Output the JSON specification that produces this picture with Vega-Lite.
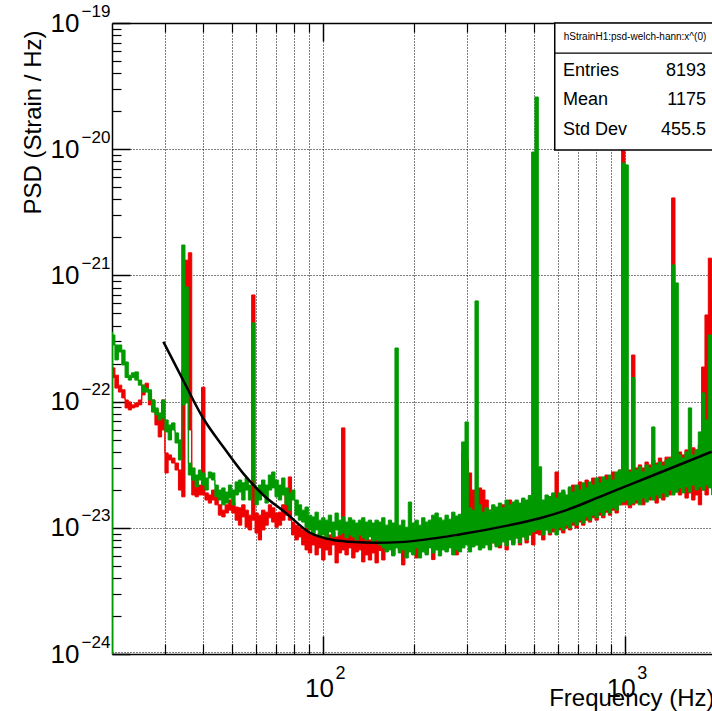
{
"$schema":"https://vega.github.io/schema/vega-lite/v6.json",
"width":600,"height":631,
"autosize":"none",
"padding":{"left":112,"top":23,"right":0,"bottom":57},
"background":"white",
"config":{"view":{"stroke":null},"font":"Liberation Sans","axis":{"labelColor":"#000","titleColor":"#000","tickColor":"#000","domainColor":"#000","labelOverlap":false,"labelFlush":false,"labelBound":false,"grid":false,"title":null}},
"datasets":{
"one":[{"k":1}],
"psd":[
{"s":"G","f":20.0,"hi":3.56e-22,"lo":1e-24},
{"s":"G","f":20.2,"hi":3.37e-22,"lo":2.81e-22},
{"s":"G","f":20.7,"hi":2.81e-22,"lo":2.14e-22},
{"s":"G","f":21.3,"hi":2.81e-22,"lo":2.47e-22},
{"s":"G","f":21.8,"hi":2.56e-22,"lo":1.95e-22},
{"s":"G","f":22.4,"hi":2.06e-22,"lo":1.55e-22},
{"s":"G","f":22.9,"hi":1.62e-22,"lo":1.48e-22},
{"s":"G","f":23.5,"hi":1.69e-22,"lo":1.55e-22},
{"s":"G","f":24.1,"hi":1.72e-22,"lo":1.48e-22},
{"s":"G","f":24.8,"hi":1.48e-22,"lo":1.35e-22},
{"s":"G","f":25.4,"hi":1.35e-22,"lo":1.19e-22},
{"s":"G","f":26.1,"hi":1.28e-22,"lo":1.19e-22},
{"s":"G","f":26.7,"hi":1.24e-22,"lo":1.03e-22},
{"s":"G","f":27.4,"hi":1.03e-22,"lo":8.28e-23},
{"s":"G","f":28.1,"hi":8.91e-23,"lo":7.84e-23},
{"s":"G","f":28.8,"hi":8.13e-23,"lo":7.16e-23},
{"s":"G","f":29.6,"hi":1.03e-22,"lo":7.42e-23},
{"s":"G","f":30.3,"hi":7.16e-23,"lo":5.75e-23},
{"s":"G","f":31.1,"hi":6.53e-23,"lo":4.97e-23},
{"s":"G","f":31.9,"hi":6.78e-23,"lo":5.96e-23},
{"s":"G","f":32.8,"hi":5.65e-23,"lo":4.70e-23},
{"s":"G","f":33.6,"hi":4.97e-23,"lo":3.45e-23},
{"s":"G","f":34.5,"hi":1.74e-21,"lo":9.42e-23},
{"s":"G","f":35.3,"hi":8.1e-22,"lo":9.76e-23},
{"s":"G","f":36.3,"hi":3.26e-23,"lo":2.62e-23},
{"s":"G","f":37.2,"hi":2.98e-23,"lo":2.39e-23},
{"s":"G","f":38.2,"hi":2.62e-23,"lo":2.11e-23},
{"s":"G","f":39.1,"hi":2.87e-23,"lo":2.39e-23},
{"s":"G","f":40.1,"hi":2.72e-23,"lo":2.18e-23},
{"s":"G","f":41.2,"hi":2.48e-23,"lo":1.99e-23},
{"s":"G","f":42.2,"hi":2.77e-23,"lo":2.48e-23},
{"s":"G","f":43.3,"hi":2.72e-23,"lo":2.39e-23},
{"s":"G","f":44.4,"hi":2.18e-23,"lo":1.76e-23},
{"s":"G","f":45.6,"hi":1.99e-23,"lo":1.66e-23},
{"s":"G","f":46.8,"hi":2.07e-23,"lo":1.52e-23},
{"s":"G","f":48.0,"hi":1.92e-23,"lo":1.57e-23},
{"s":"G","f":49.2,"hi":2.18e-23,"lo":1.72e-23},
{"s":"G","f":50.5,"hi":1.99e-23,"lo":1.52e-23},
{"s":"G","f":51.8,"hi":2.31e-23,"lo":1.82e-23},
{"s":"G","f":53.1,"hi":2.39e-23,"lo":1.92e-23},
{"s":"G","f":54.5,"hi":2.27e-23,"lo":1.66e-23},
{"s":"G","f":55.9,"hi":2.48e-23,"lo":1.99e-23},
{"s":"G","f":57.3,"hi":2.18e-23,"lo":1.66e-23},
{"s":"G","f":58.8,"hi":4.20e-22,"lo":2.39e-23},
{"s":"G","f":60.3,"hi":2.07e-23,"lo":1.52e-23},
{"s":"G","f":61.8,"hi":2.18e-23,"lo":1.66e-23},
{"s":"G","f":63.4,"hi":2.39e-23,"lo":1.82e-23},
{"s":"G","f":65.1,"hi":2.18e-23,"lo":1.57e-23},
{"s":"G","f":66.7,"hi":2.62e-23,"lo":1.99e-23},
{"s":"G","f":68.5,"hi":2.77e-23,"lo":2.07e-23},
{"s":"G","f":70.2,"hi":2.39e-23,"lo":1.76e-23},
{"s":"G","f":72.0,"hi":2.18e-23,"lo":1.66e-23},
{"s":"G","f":73.9,"hi":2.48e-23,"lo":1.82e-23},
{"s":"G","f":75.8,"hi":2.07e-23,"lo":1.52e-23},
{"s":"G","f":77.7,"hi":1.89e-23,"lo":1.38e-23},
{"s":"G","f":79.7,"hi":1.99e-23,"lo":1.66e-23},
{"s":"G","f":81.8,"hi":1.66e-23,"lo":1.26e-23},
{"s":"G","f":83.9,"hi":1.52e-23,"lo":1.15e-23},
{"s":"G","f":86.1,"hi":1.38e-23,"lo":1.11e-23},
{"s":"G","f":88.3,"hi":1.46e-23,"lo":1.01e-23},
{"s":"G","f":90.6,"hi":1.26e-23,"lo":9.62e-24},
{"s":"G","f":92.9,"hi":1.22e-23,"lo":8.78e-24},
{"s":"G","f":95.3,"hi":1.33e-23,"lo":9.62e-24},
{"s":"G","f":97.7,"hi":1.15e-23,"lo":8.47e-24},
{"s":"G","f":100.3,"hi":1.20e-23,"lo":8.78e-24},
{"s":"G","f":102.8,"hi":1.15e-23,"lo":8.32e-24},
{"s":"G","f":105.5,"hi":1.26e-23,"lo":9.28e-24},
{"s":"G","f":108.2,"hi":1.11e-23,"lo":8.47e-24},
{"s":"G","f":111.0,"hi":1.31e-23,"lo":9.62e-24},
{"s":"G","f":113.8,"hi":1.15e-23,"lo":8.78e-24},
{"s":"G","f":116.7,"hi":1.22e-23,"lo":9.11e-24},
{"s":"G","f":119.8,"hi":1.11e-23,"lo":8.32e-24},
{"s":"G","f":122.9,"hi":1.20e-23,"lo":8.78e-24},
{"s":"G","f":126.1,"hi":1.15e-23,"lo":8.47e-24},
{"s":"G","f":129.3,"hi":1.09e-23,"lo":8.02e-24},
{"s":"G","f":132.6,"hi":1.15e-23,"lo":8.78e-24},
{"s":"G","f":136.0,"hi":1.20e-23,"lo":8.32e-24},
{"s":"G","f":139.5,"hi":1.11e-23,"lo":8.02e-24},
{"s":"G","f":143.1,"hi":1.15e-23,"lo":8.47e-24},
{"s":"G","f":146.8,"hi":1.09e-23,"lo":7.73e-24},
{"s":"G","f":150.6,"hi":1.15e-23,"lo":8.02e-24},
{"s":"G","f":154.5,"hi":1.11e-23,"lo":7.32e-24},
{"s":"G","f":158.5,"hi":1.20e-23,"lo":6.93e-24},
{"s":"G","f":162.6,"hi":1.05e-23,"lo":6.44e-24},
{"s":"G","f":166.7,"hi":1.15e-23,"lo":6.68e-24},
{"s":"G","f":171.0,"hi":1.09e-23,"lo":5.99e-24},
{"s":"G","f":175.4,"hi":2.66e-22,"lo":6.93e-24},
{"s":"G","f":179.9,"hi":1.05e-23,"lo":6.32e-24},
{"s":"G","f":184.5,"hi":1.15e-23,"lo":6.68e-24},
{"s":"G","f":189.3,"hi":1.01e-23,"lo":5.77e-24},
{"s":"G","f":194.2,"hi":1.60e-23,"lo":6.44e-24},
{"s":"G","f":199.2,"hi":1.09e-23,"lo":6.10e-24},
{"s":"G","f":204.4,"hi":1.15e-23,"lo":6.93e-24},
{"s":"G","f":209.6,"hi":1.05e-23,"lo":5.77e-24},
{"s":"G","f":215.0,"hi":1.20e-23,"lo":6.44e-24},
{"s":"G","f":220.6,"hi":1.11e-23,"lo":6.10e-24},
{"s":"G","f":226.2,"hi":1.15e-23,"lo":6.93e-24},
{"s":"G","f":232.0,"hi":1.26e-23,"lo":6.32e-24},
{"s":"G","f":238.0,"hi":1.31e-23,"lo":6.68e-24},
{"s":"G","f":244.1,"hi":1.20e-23,"lo":5.99e-24},
{"s":"G","f":250.4,"hi":1.15e-23,"lo":6.68e-24},
{"s":"G","f":256.9,"hi":1.26e-23,"lo":6.44e-24},
{"s":"G","f":263.5,"hi":1.17e-23,"lo":6.93e-24},
{"s":"G","f":270.3,"hi":1.33e-23,"lo":6.10e-24},
{"s":"G","f":277.3,"hi":1.24e-23,"lo":6.68e-24},
{"s":"G","f":284.4,"hi":1.28e-23,"lo":6.44e-24},
{"s":"G","f":291.7,"hi":4.79e-23,"lo":6.93e-24},
{"s":"G","f":299.3,"hi":6.90e-23,"lo":7.32e-24},
{"s":"G","f":306.9,"hi":1.44e-23,"lo":6.44e-24},
{"s":"G","f":314.8,"hi":1.38e-23,"lo":7.06e-24},
{"s":"G","f":323.0,"hi":6.28e-22,"lo":7.32e-24},
{"s":"G","f":331.2,"hi":1.52e-23,"lo":6.68e-24},
{"s":"G","f":339.7,"hi":1.33e-23,"lo":6.93e-24},
{"s":"G","f":348.5,"hi":1.44e-23,"lo":7.32e-24},
{"s":"G","f":357.5,"hi":1.38e-23,"lo":6.68e-24},
{"s":"G","f":366.7,"hi":1.52e-23,"lo":7.59e-24},
{"s":"G","f":376.2,"hi":1.46e-23,"lo":7.06e-24},
{"s":"G","f":385.8,"hi":1.57e-23,"lo":7.32e-24},
{"s":"G","f":395.8,"hi":1.44e-23,"lo":7.73e-24},
{"s":"G","f":406.0,"hi":1.66e-23,"lo":7.19e-24},
{"s":"G","f":416.4,"hi":1.52e-23,"lo":8.02e-24},
{"s":"G","f":427.2,"hi":1.60e-23,"lo":7.32e-24},
{"s":"G","f":438.2,"hi":1.66e-23,"lo":8.32e-24},
{"s":"G","f":449.4,"hi":1.57e-23,"lo":7.59e-24},
{"s":"G","f":461.0,"hi":1.72e-23,"lo":8.47e-24},
{"s":"G","f":472.9,"hi":1.66e-23,"lo":8.02e-24},
{"s":"G","f":485.0,"hi":1.80e-23,"lo":8.78e-24},
{"s":"G","f":497.5,"hi":9.5e-21,"lo":9.28e-24},
{"s":"G","f":510.4,"hi":2.59e-20,"lo":9.62e-24},
{"s":"G","f":523.5,"hi":3.04e-23,"lo":9.62e-24},
{"s":"G","f":537.0,"hi":1.66e-23,"lo":8.78e-24},
{"s":"G","f":550.9,"hi":1.82e-23,"lo":9.62e-24},
{"s":"G","f":565.0,"hi":1.76e-23,"lo":9.11e-24},
{"s":"G","f":579.6,"hi":1.89e-23,"lo":9.97e-24},
{"s":"G","f":594.6,"hi":1.72e-23,"lo":8.78e-24},
{"s":"G","f":609.8,"hi":1.89e-23,"lo":1.01e-23},
{"s":"G","f":625.5,"hi":1.99e-23,"lo":9.62e-24},
{"s":"G","f":641.7,"hi":1.82e-23,"lo":1.05e-23},
{"s":"G","f":658.1,"hi":2.11e-23,"lo":9.97e-24},
{"s":"G","f":675.1,"hi":1.92e-23,"lo":1.11e-23},
{"s":"G","f":692.6,"hi":2.18e-23,"lo":1.05e-23},
{"s":"G","f":710.3,"hi":1.99e-23,"lo":1.15e-23},
{"s":"G","f":728.6,"hi":2.27e-23,"lo":1.09e-23},
{"s":"G","f":747.5,"hi":2.07e-23,"lo":1.22e-23},
{"s":"G","f":766.6,"hi":2.31e-23,"lo":1.15e-23},
{"s":"G","f":786.4,"hi":2.18e-23,"lo":1.26e-23},
{"s":"G","f":806.7,"hi":2.48e-23,"lo":1.20e-23},
{"s":"G","f":827.4,"hi":2.27e-23,"lo":1.33e-23},
{"s":"G","f":848.8,"hi":2.53e-23,"lo":1.26e-23},
{"s":"G","f":870.7,"hi":2.39e-23,"lo":1.38e-23},
{"s":"G","f":893.0,"hi":2.62e-23,"lo":1.31e-23},
{"s":"G","f":916.1,"hi":2.39e-23,"lo":1.44e-23},
{"s":"G","f":939.7,"hi":2.77e-23,"lo":1.38e-23},
{"s":"G","f":963.8,"hi":2.87e-23,"lo":1.52e-23},
{"s":"G","f":988.7,"hi":7.78e-21,"lo":1.60e-23},
{"s":"G","f":1014,"hi":7.51e-21,"lo":1.66e-23},
{"s":"G","f":1040,"hi":2.77e-23,"lo":1.52e-23},
{"s":"G","f":1067,"hi":1.55e-22,"lo":1.57e-23},
{"s":"G","f":1094,"hi":2.87e-23,"lo":1.66e-23},
{"s":"G","f":1123,"hi":3.04e-23,"lo":1.52e-23},
{"s":"G","f":1152,"hi":2.77e-23,"lo":1.72e-23},
{"s":"G","f":1181,"hi":3.15e-23,"lo":1.60e-23},
{"s":"G","f":1212,"hi":2.98e-23,"lo":1.76e-23},
{"s":"G","f":1243,"hi":6.30e-23,"lo":1.66e-23},
{"s":"G","f":1275,"hi":3.15e-23,"lo":1.82e-23},
{"s":"G","f":1308,"hi":3.32e-23,"lo":1.72e-23},
{"s":"G","f":1342,"hi":3.09e-23,"lo":1.89e-23},
{"s":"G","f":1376,"hi":3.45e-23,"lo":1.76e-23},
{"s":"G","f":1411,"hi":3.57e-23,"lo":1.99e-23},
{"s":"G","f":1448,"hi":1.21e-21,"lo":1.82e-23},
{"s":"G","f":1485,"hi":8.72e-22,"lo":1.92e-23},
{"s":"G","f":1523,"hi":3.78e-23,"lo":2.07e-23},
{"s":"G","f":1562,"hi":3.57e-23,"lo":1.89e-23},
{"s":"G","f":1603,"hi":3.99e-23,"lo":2.11e-23},
{"s":"G","f":1644,"hi":8.91e-23,"lo":1.92e-23},
{"s":"G","f":1687,"hi":3.78e-23,"lo":2.18e-23},
{"s":"G","f":1730,"hi":4.14e-23,"lo":1.99e-23},
{"s":"G","f":1774,"hi":5.75e-23,"lo":2.11e-23},
{"s":"G","f":1820,"hi":1.17e-22,"lo":1.99e-23},
{"s":"G","f":1867,"hi":7.16e-23,"lo":2.18e-23},
{"s":"G","f":1915,"hi":3.37e-22,"lo":2.07e-23},
{"s":"G","f":1964,"hi":4.14e-23,"lo":1.82e-23},
{"s":"R","f":20.0,"hi":1.85e-22,"lo":1.62e-22},
{"s":"R","f":20.2,"hi":1.85e-22,"lo":1.55e-22},
{"s":"R","f":20.7,"hi":1.62e-22,"lo":1.28e-22},
{"s":"R","f":21.3,"hi":1.35e-22,"lo":1.19e-22},
{"s":"R","f":21.8,"hi":1.24e-22,"lo":1.07e-22},
{"s":"R","f":22.4,"hi":1.03e-22,"lo":8.91e-23},
{"s":"R","f":22.9,"hi":9.93e-23,"lo":8.59e-23},
{"s":"R","f":23.5,"hi":9.42e-23,"lo":8.91e-23},
{"s":"R","f":24.1,"hi":9.76e-23,"lo":9.08e-23},
{"s":"R","f":24.8,"hi":1.03e-22,"lo":9.42e-23},
{"s":"R","f":25.4,"hi":1.35e-22,"lo":1.13e-22},
{"s":"R","f":26.1,"hi":1.40e-22,"lo":1.24e-22},
{"s":"R","f":26.7,"hi":1.17e-22,"lo":9.42e-23},
{"s":"R","f":27.4,"hi":1.03e-22,"lo":8.28e-23},
{"s":"R","f":28.1,"hi":8.59e-23,"lo":6.53e-23},
{"s":"R","f":28.8,"hi":7.84e-23,"lo":5.25e-23},
{"s":"R","f":29.6,"hi":1.03e-22,"lo":5.96e-23},
{"s":"R","f":30.3,"hi":3.92e-23,"lo":2.72e-23},
{"s":"R","f":31.1,"hi":3.78e-23,"lo":3.45e-23},
{"s":"R","f":31.9,"hi":3.57e-23,"lo":3.26e-23},
{"s":"R","f":32.8,"hi":3.26e-23,"lo":2.87e-23},
{"s":"R","f":33.6,"hi":2.87e-23,"lo":1.99e-23},
{"s":"R","f":34.5,"hi":1.78e-22,"lo":1.76e-23},
{"s":"R","f":35.3,"hi":1.32e-21,"lo":3.08e-22},
{"s":"R","f":36.3,"hi":1.51e-21,"lo":5.96e-23},
{"s":"R","f":37.2,"hi":2.48e-23,"lo":1.82e-23},
{"s":"R","f":38.2,"hi":2.39e-23,"lo":1.76e-23},
{"s":"R","f":39.1,"hi":2.18e-23,"lo":1.82e-23},
{"s":"R","f":40.1,"hi":1.30e-22,"lo":1.82e-23},
{"s":"R","f":41.2,"hi":1.89e-23,"lo":1.66e-23},
{"s":"R","f":42.2,"hi":1.82e-23,"lo":1.57e-23},
{"s":"R","f":43.3,"hi":1.99e-23,"lo":1.66e-23},
{"s":"R","f":44.4,"hi":1.76e-23,"lo":1.52e-23},
{"s":"R","f":45.6,"hi":1.52e-23,"lo":1.26e-23},
{"s":"R","f":46.8,"hi":1.38e-23,"lo":1.22e-23},
{"s":"R","f":48.0,"hi":1.52e-23,"lo":1.31e-23},
{"s":"R","f":49.2,"hi":1.66e-23,"lo":1.38e-23},
{"s":"R","f":50.5,"hi":1.57e-23,"lo":1.31e-23},
{"s":"R","f":51.8,"hi":1.46e-23,"lo":1.15e-23},
{"s":"R","f":53.1,"hi":1.44e-23,"lo":1.05e-23},
{"s":"R","f":54.5,"hi":1.52e-23,"lo":1.22e-23},
{"s":"R","f":55.9,"hi":1.38e-23,"lo":1.01e-23},
{"s":"R","f":57.3,"hi":1.26e-23,"lo":9.62e-24},
{"s":"R","f":58.8,"hi":7.00e-22,"lo":1.15e-23},
{"s":"R","f":60.3,"hi":1.31e-23,"lo":9.11e-24},
{"s":"R","f":61.8,"hi":1.26e-23,"lo":8.02e-24},
{"s":"R","f":63.4,"hi":1.38e-23,"lo":9.62e-24},
{"s":"R","f":65.1,"hi":1.33e-23,"lo":1.05e-23},
{"s":"R","f":66.7,"hi":1.52e-23,"lo":1.20e-23},
{"s":"R","f":68.5,"hi":1.44e-23,"lo":1.11e-23},
{"s":"R","f":70.2,"hi":1.31e-23,"lo":1.01e-23},
{"s":"R","f":72.0,"hi":1.33e-23,"lo":1.05e-23},
{"s":"R","f":73.9,"hi":1.52e-23,"lo":1.15e-23},
{"s":"R","f":75.8,"hi":1.99e-23,"lo":1.26e-23},
{"s":"R","f":77.7,"hi":2.53e-23,"lo":1.15e-23},
{"s":"R","f":79.7,"hi":1.11e-23,"lo":8.78e-24},
{"s":"R","f":81.8,"hi":1.05e-23,"lo":8.02e-24},
{"s":"R","f":83.9,"hi":1.01e-23,"lo":8.47e-24},
{"s":"R","f":86.1,"hi":9.62e-24,"lo":7.32e-24},
{"s":"R","f":88.3,"hi":9.97e-24,"lo":6.68e-24},
{"s":"R","f":90.6,"hi":9.11e-24,"lo":6.32e-24},
{"s":"R","f":92.9,"hi":9.62e-24,"lo":7.32e-24},
{"s":"R","f":95.3,"hi":8.78e-24,"lo":6.10e-24},
{"s":"R","f":97.7,"hi":9.11e-24,"lo":6.93e-24},
{"s":"R","f":100.3,"hi":8.47e-24,"lo":5.56e-24},
{"s":"R","f":102.8,"hi":9.62e-24,"lo":6.68e-24},
{"s":"R","f":105.5,"hi":8.78e-24,"lo":6.10e-24},
{"s":"R","f":108.2,"hi":9.28e-24,"lo":7.32e-24},
{"s":"R","f":111.0,"hi":8.47e-24,"lo":5.27e-24},
{"s":"R","f":113.8,"hi":9.11e-24,"lo":6.32e-24},
{"s":"R","f":116.7,"hi":6.19e-23,"lo":6.68e-24},
{"s":"R","f":119.8,"hi":8.78e-24,"lo":6.10e-24},
{"s":"R","f":122.9,"hi":9.11e-24,"lo":6.93e-24},
{"s":"R","f":126.1,"hi":8.47e-24,"lo":5.77e-24},
{"s":"R","f":129.3,"hi":8.78e-24,"lo":6.44e-24},
{"s":"R","f":132.6,"hi":9.62e-24,"lo":6.68e-24},
{"s":"R","f":136.0,"hi":8.47e-24,"lo":5.37e-24},
{"s":"R","f":139.5,"hi":8.78e-24,"lo":6.10e-24},
{"s":"R","f":143.1,"hi":8.02e-24,"lo":5.56e-24},
{"s":"R","f":146.8,"hi":9.11e-24,"lo":6.32e-24},
{"s":"R","f":150.6,"hi":8.32e-24,"lo":5.27e-24},
{"s":"R","f":154.5,"hi":9.62e-24,"lo":6.60e-24},
{"s":"R","f":158.5,"hi":8.78e-24,"lo":5.56e-24},
{"s":"R","f":162.6,"hi":9.97e-24,"lo":6.80e-24},
{"s":"R","f":166.7,"hi":9.11e-24,"lo":6.90e-24},
{"s":"R","f":171.0,"hi":9.62e-24,"lo":6.10e-24},
{"s":"R","f":175.4,"hi":1.01e-23,"lo":7.20e-24},
{"s":"R","f":179.9,"hi":8.78e-24,"lo":6.60e-24},
{"s":"R","f":184.5,"hi":9.62e-24,"lo":5.08e-24},
{"s":"R","f":189.3,"hi":9.11e-24,"lo":6.30e-24},
{"s":"R","f":194.2,"hi":9.97e-24,"lo":6.90e-24},
{"s":"R","f":199.2,"hi":9.62e-24,"lo":6.40e-24},
{"s":"R","f":204.4,"hi":8.78e-24,"lo":5.77e-24},
{"s":"R","f":209.6,"hi":1.01e-23,"lo":6.90e-24},
{"s":"R","f":215.0,"hi":9.62e-24,"lo":6.80e-24},
{"s":"R","f":220.6,"hi":1.05e-23,"lo":6.32e-24},
{"s":"R","f":226.2,"hi":9.97e-24,"lo":7.10e-24},
{"s":"R","f":232.0,"hi":1.15e-23,"lo":5.60e-24},
{"s":"R","f":238.0,"hi":1.05e-23,"lo":7.00e-24},
{"s":"R","f":244.1,"hi":1.11e-23,"lo":6.93e-24},
{"s":"R","f":250.4,"hi":9.97e-24,"lo":7.00e-24},
{"s":"R","f":256.9,"hi":1.15e-23,"lo":6.68e-24},
{"s":"R","f":263.5,"hi":1.05e-23,"lo":7.10e-24},
{"s":"R","f":270.3,"hi":1.20e-23,"lo":6.93e-24},
{"s":"R","f":277.3,"hi":1.09e-23,"lo":6.10e-24},
{"s":"R","f":284.4,"hi":1.15e-23,"lo":7.32e-24},
{"s":"R","f":291.7,"hi":3.92e-23,"lo":8.02e-24},
{"s":"R","f":299.3,"hi":3.45e-23,"lo":8.78e-24},
{"s":"R","f":306.9,"hi":2.72e-23,"lo":9.62e-24},
{"s":"R","f":314.8,"hi":1.99e-23,"lo":8.78e-24},
{"s":"R","f":323.0,"hi":1.66e-23,"lo":7.32e-24},
{"s":"R","f":331.2,"hi":2.07e-23,"lo":8.02e-24},
{"s":"R","f":339.7,"hi":1.99e-23,"lo":7.32e-24},
{"s":"R","f":348.5,"hi":1.66e-23,"lo":8.02e-24},
{"s":"R","f":357.5,"hi":1.38e-23,"lo":6.93e-24},
{"s":"R","f":366.7,"hi":1.26e-23,"lo":7.60e-24},
{"s":"R","f":376.2,"hi":1.38e-23,"lo":7.32e-24},
{"s":"R","f":385.8,"hi":1.33e-23,"lo":6.93e-24},
{"s":"R","f":395.8,"hi":1.52e-23,"lo":7.80e-24},
{"s":"R","f":406.0,"hi":1.38e-23,"lo":6.68e-24},
{"s":"R","f":416.4,"hi":1.66e-23,"lo":8.20e-24},
{"s":"R","f":427.2,"hi":1.52e-23,"lo":7.50e-24},
{"s":"R","f":438.2,"hi":1.60e-23,"lo":8.30e-24},
{"s":"R","f":449.4,"hi":1.46e-23,"lo":7.32e-24},
{"s":"R","f":461.0,"hi":1.66e-23,"lo":8.50e-24},
{"s":"R","f":472.9,"hi":1.52e-23,"lo":7.59e-24},
{"s":"R","f":485.0,"hi":1.66e-23,"lo":8.80e-24},
{"s":"R","f":497.5,"hi":1.38e-23,"lo":7.32e-24},
{"s":"R","f":510.4,"hi":1.52e-23,"lo":9.00e-24},
{"s":"R","f":523.5,"hi":1.60e-23,"lo":8.78e-24},
{"s":"R","f":537.0,"hi":1.52e-23,"lo":8.02e-24},
{"s":"R","f":550.9,"hi":1.66e-23,"lo":9.62e-24},
{"s":"R","f":565.0,"hi":1.76e-23,"lo":8.78e-24},
{"s":"R","f":579.6,"hi":1.82e-23,"lo":9.28e-24},
{"s":"R","f":594.6,"hi":2.77e-23,"lo":9.62e-24},
{"s":"R","f":609.8,"hi":1.82e-23,"lo":9.62e-24},
{"s":"R","f":625.5,"hi":1.92e-23,"lo":9.11e-24},
{"s":"R","f":641.7,"hi":1.76e-23,"lo":9.97e-24},
{"s":"R","f":658.1,"hi":2.07e-23,"lo":9.62e-24},
{"s":"R","f":675.1,"hi":2.18e-23,"lo":1.05e-23},
{"s":"R","f":692.6,"hi":1.99e-23,"lo":9.97e-24},
{"s":"R","f":710.3,"hi":2.31e-23,"lo":1.11e-23},
{"s":"R","f":728.6,"hi":2.18e-23,"lo":1.05e-23},
{"s":"R","f":747.5,"hi":2.39e-23,"lo":1.15e-23},
{"s":"R","f":766.6,"hi":2.27e-23,"lo":1.11e-23},
{"s":"R","f":786.4,"hi":2.48e-23,"lo":1.20e-23},
{"s":"R","f":806.7,"hi":2.31e-23,"lo":1.15e-23},
{"s":"R","f":827.4,"hi":2.53e-23,"lo":1.26e-23},
{"s":"R","f":848.8,"hi":2.39e-23,"lo":1.20e-23},
{"s":"R","f":870.7,"hi":2.62e-23,"lo":1.33e-23},
{"s":"R","f":893.0,"hi":2.53e-23,"lo":1.26e-23},
{"s":"R","f":916.1,"hi":2.77e-23,"lo":1.38e-23},
{"s":"R","f":939.7,"hi":2.62e-23,"lo":1.31e-23},
{"s":"R","f":963.8,"hi":2.87e-23,"lo":1.52e-23},
{"s":"R","f":988.7,"hi":1.02e-20,"lo":1.52e-23},
{"s":"R","f":1014,"hi":2.87e-23,"lo":1.52e-23},
{"s":"R","f":1040,"hi":2.87e-23,"lo":1.44e-23},
{"s":"R","f":1067,"hi":2.34e-22,"lo":1.52e-23},
{"s":"R","f":1094,"hi":2.98e-23,"lo":1.57e-23},
{"s":"R","f":1123,"hi":3.15e-23,"lo":1.66e-23},
{"s":"R","f":1152,"hi":2.98e-23,"lo":1.52e-23},
{"s":"R","f":1181,"hi":3.32e-23,"lo":1.72e-23},
{"s":"R","f":1212,"hi":3.15e-23,"lo":1.66e-23},
{"s":"R","f":1243,"hi":3.45e-23,"lo":1.76e-23},
{"s":"R","f":1275,"hi":3.26e-23,"lo":1.57e-23},
{"s":"R","f":1308,"hi":3.57e-23,"lo":1.82e-23},
{"s":"R","f":1342,"hi":3.32e-23,"lo":1.66e-23},
{"s":"R","f":1376,"hi":3.63e-23,"lo":1.89e-23},
{"s":"R","f":1411,"hi":3.63e-23,"lo":1.82e-23},
{"s":"R","f":1448,"hi":4.11e-21,"lo":1.99e-23},
{"s":"R","f":1485,"hi":3.78e-23,"lo":1.92e-23},
{"s":"R","f":1523,"hi":3.99e-23,"lo":1.82e-23},
{"s":"R","f":1562,"hi":3.78e-23,"lo":1.99e-23},
{"s":"R","f":1603,"hi":4.14e-23,"lo":1.72e-23},
{"s":"R","f":1644,"hi":3.92e-23,"lo":1.89e-23},
{"s":"R","f":1687,"hi":4.30e-23,"lo":1.66e-23},
{"s":"R","f":1730,"hi":4.14e-23,"lo":1.82e-23},
{"s":"R","f":1774,"hi":4.53e-23,"lo":1.52e-23},
{"s":"R","f":1820,"hi":1.88e-22,"lo":1.99e-23},
{"s":"R","f":1867,"hi":4.86e-22,"lo":1.82e-23},
{"s":"R","f":1915,"hi":1.37e-21,"lo":2.18e-23},
{"s":"R","f":1964,"hi":6.39e-22,"lo":1.99e-23}
],
"fit":[
{"f":29.6,"v":2.98e-22},{"f":34.4,"v":1.48e-22},{"f":40.1,"v":7.38e-23},{"f":46.7,"v":4.39e-23},
{"f":54.4,"v":2.70e-23},{"f":63.4,"v":1.82e-23},{"f":75.7,"v":1.30e-23},{"f":89.3,"v":9.31e-24},
{"f":108,"v":8.0e-24},{"f":122.7,"v":7.76e-24},{"f":150,"v":7.6e-24},{"f":179.8,"v":7.7e-24},
{"f":286,"v":8.9e-24},{"f":415.7,"v":1.05e-23},{"f":522.6,"v":1.19e-23},{"f":640.6,"v":1.38e-23},
{"f":825.8,"v":1.76e-23},{"f":1065,"v":2.25e-23},{"f":1373,"v":2.87e-23},{"f":1940,"v":4.01e-23}
]
},
"layer":[
{"data":{"name":"psd"},"transform":[{"filter":"datum.s==='R'"}],
 "mark":{"type":"area","interpolate":"step","color":"#ee0000","stroke":"#ee0000","strokeWidth":1,"clip":true},
 "encoding":{
  "x":{"field":"f","type":"quantitative","scale":{"type":"log","domain":[20,1945],"nice":false},
   "axis":{"orient":"bottom","values":[30,40,50,60,70,80,90,100,200,300,400,500,600,700,800,900,1000],"grid":true,"gridDash":[1,2],"gridColor":"#000","gridWidth":1,"gridOpacity":1,"ticks":false,"labels":false,"domain":false}},
  "y":{"field":"hi","type":"quantitative","scale":{"type":"log","domain":[1e-24,1e-19],"nice":false},
   "axis":{"orient":"left","values":[1.03e-24,1e-23,1e-22,1e-21,1e-20],"grid":true,"gridDash":[1,2],"gridColor":"#000","gridWidth":1,"gridOpacity":1,"ticks":false,"labels":false,"domain":false}},
  "y2":{"field":"lo"}}},
{"data":{"name":"psd"},"transform":[{"filter":"datum.s==='G'"}],
 "mark":{"type":"area","interpolate":"step","color":"#009a00","stroke":"#009a00","strokeWidth":1,"clip":true},
 "encoding":{
  "x":{"field":"f","type":"quantitative","scale":{"type":"log","domain":[20,1945],"nice":false},
   "axis":{"orient":"bottom","values":[100,1000],"labelExpr":"'10'","labelFontSize":26,"labelAlign":"center","labelBaseline":"alphabetic","labelPadding":42,"labelOffset":-4,"ticks":false,"domain":true,"domainWidth":1.5,
    "title":"Frequency (Hz)","titleFontSize":24,"titleFontWeight":"normal","titleAlign":"right","titleAnchor":"end","titleBaseline":"alphabetic","titleX":602,"titleY":51}},
  "y":{"field":"hi","type":"quantitative","scale":{"type":"log","domain":[1e-24,1e-19],"nice":false},
   "axis":{"orient":"left","values":[1e-24,1e-23,1e-22,1e-21,1e-20,1e-19],"labelExpr":"'10'","labelFontSize":26,"labelAlign":"right","labelBaseline":"middle","labelPadding":33,"ticks":false,"domain":true,"domainWidth":1.5,
    "title":"PSD (Strain / Hz)","titleFontSize":24,"titleFontWeight":"normal","titleAngle":-90,"titleAlign":"right","titleAnchor":"end","titleBaseline":"alphabetic","titleX":-72,"titleY":7}},
  "y2":{"field":"lo"}}},
{"data":{"name":"fit"},
 "mark":{"type":"line","interpolate":"monotone","color":"#000","strokeWidth":2.5,"clip":true},
 "encoding":{
  "x":{"field":"f","type":"quantitative","scale":{"type":"log","domain":[20,1945],"nice":false},
   "axis":{"orient":"bottom","values":[100,1000],"labelExpr":"'' + round(log(datum.value)/LN10)","labelFontSize":18,"labelAlign":"left","labelBaseline":"alphabetic","labelPadding":24,"labelOffset":12,"ticks":false,"domain":false}},
  "y":{"field":"v","type":"quantitative","scale":{"type":"log","domain":[1e-24,1e-19],"nice":false},
   "axis":{"orient":"left","values":[1e-24,1e-23,1e-22,1e-21,1e-20,1e-19],"labelExpr":"'\u2212' + round(-log(datum.value)/LN10)","labelFontSize":17,"labelAlign":"left","labelBaseline":"middle","labelPadding":31,"labelOffset":-12,"ticks":false,"domain":false}}}},
{"data":{"name":"one"},
 "mark":{"type":"rect","fill":"white","stroke":"#000","strokeWidth":1.5},
 "encoding":{
  "x":{"datum":586,"type":"quantitative","scale":{"type":"log","domain":[20,1945],"nice":false},
   "axis":{"orient":"bottom","values":[100,1000],"tickSize":-18,"tickWidth":1.5,"labels":false,"domain":false}},
  "x2":{"datum":2600},
  "y":{"datum":1e-19,"type":"quantitative","scale":{"type":"log","domain":[1e-24,1e-19],"nice":false},
   "axis":{"orient":"left","values":[1e-24,1e-23,1e-22,1e-21,1e-20,1e-19],"tickSize":-18,"tickWidth":1.5,"labels":false,"domain":false}},
  "y2":{"datum":9.86e-21}}},
{"data":{"name":"one"},
 "mark":{"type":"rule","stroke":"#000","strokeWidth":1.2},
 "encoding":{
  "x":{"datum":586,"type":"quantitative","scale":{"type":"log","domain":[20,1945],"nice":false},
   "axis":{"orient":"bottom","values":[30,40,50,60,70,80,90,200,300,400,500,600,700,800,900],"tickSize":-10,"tickWidth":1.2,"labels":false,"domain":false}},
  "x2":{"datum":2600},
  "y":{"datum":5.78e-20,"type":"quantitative","scale":{"type":"log","domain":[1e-24,1e-19],"nice":false},
   "axis":{"orient":"left","values":[2e-24,3e-24,4e-24,5e-24,6e-24,7e-24,8e-24,9e-24,2e-23,3e-23,4e-23,5e-23,6e-23,7e-23,8e-23,9e-23,2e-22,3e-22,4e-22,5e-22,6e-22,7e-22,8e-22,9e-22,2e-21,3e-21,4e-21,5e-21,6e-21,7e-21,8e-21,9e-21,2e-20,3e-20,4e-20,5e-20,6e-20,7e-20,8e-20,9e-20],"tickSize":-9,"tickWidth":1.2,"labels":false,"domain":false}}}},
{"data":{"name":"one"},
 "mark":{"type":"text","fontSize":10,"align":"center","baseline":"middle","color":"#000"},
 "encoding":{
  "x":{"datum":1081,"type":"quantitative","scale":{"type":"log","domain":[20,1945],"nice":false},
   "axis":{"orient":"top","values":[30,40,50,60,70,80,90,200,300,400,500,600,700,800,900],"tickSize":-9,"tickWidth":1.2,"labels":false,"domain":true,"domainWidth":1.5}},
  "y":{"datum":7.75e-20,"type":"quantitative","scale":{"type":"log","domain":[1e-24,1e-19],"nice":false},"axis":null},
  "text":{"value":"hStrainH1:psd-welch-hann:x^(0)"}}},
{"data":{"name":"one"},
 "mark":{"type":"text","fontSize":18,"align":"left","baseline":"middle","color":"#000"},
 "encoding":{
  "x":{"datum":624,"type":"quantitative","scale":{"type":"log","domain":[20,1945],"nice":false},
   "axis":{"orient":"top","values":[100,1000],"tickSize":-18,"tickWidth":1.5,"labels":false,"domain":false}},
  "y":{"datum":4.19e-20,"type":"quantitative","scale":{"type":"log","domain":[1e-24,1e-19],"nice":false},"axis":null},
  "text":{"value":"Entries"}}},
{"data":{"name":"one"},
 "mark":{"type":"text","fontSize":18,"align":"left","baseline":"middle","color":"#000"},
 "encoding":{
  "x":{"datum":624,"type":"quantitative","scale":{"type":"log","domain":[20,1945],"nice":false},"axis":null},
  "y":{"datum":2.45e-20,"type":"quantitative","scale":{"type":"log","domain":[1e-24,1e-19],"nice":false},"axis":null},
  "text":{"value":"Mean"}}},
{"data":{"name":"one"},
 "mark":{"type":"text","fontSize":18,"align":"left","baseline":"middle","color":"#000"},
 "encoding":{
  "x":{"datum":624,"type":"quantitative","scale":{"type":"log","domain":[20,1945],"nice":false},"axis":null},
  "y":{"datum":1.42e-20,"type":"quantitative","scale":{"type":"log","domain":[1e-24,1e-19],"nice":false},"axis":null},
  "text":{"value":"Std Dev"}}},
{"data":{"name":"one"},
 "mark":{"type":"text","fontSize":18,"align":"right","baseline":"middle","color":"#000"},
 "encoding":{
  "x":{"datum":1858,"type":"quantitative","scale":{"type":"log","domain":[20,1945],"nice":false},"axis":null},
  "y":{"datum":4.19e-20,"type":"quantitative","scale":{"type":"log","domain":[1e-24,1e-19],"nice":false},"axis":null},
  "text":{"value":"8193"}}},
{"data":{"name":"one"},
 "mark":{"type":"text","fontSize":18,"align":"right","baseline":"middle","color":"#000"},
 "encoding":{
  "x":{"datum":1858,"type":"quantitative","scale":{"type":"log","domain":[20,1945],"nice":false},"axis":null},
  "y":{"datum":2.45e-20,"type":"quantitative","scale":{"type":"log","domain":[1e-24,1e-19],"nice":false},"axis":null},
  "text":{"value":"1175"}}},
{"data":{"name":"one"},
 "mark":{"type":"text","fontSize":18,"align":"right","baseline":"middle","color":"#000"},
 "encoding":{
  "x":{"datum":1858,"type":"quantitative","scale":{"type":"log","domain":[20,1945],"nice":false},"axis":null},
  "y":{"datum":1.42e-20,"type":"quantitative","scale":{"type":"log","domain":[1e-24,1e-19],"nice":false},"axis":null},
  "text":{"value":"455.5"}}}
],
"resolve":{"axis":{"x":"independent","y":"independent"}}
}
